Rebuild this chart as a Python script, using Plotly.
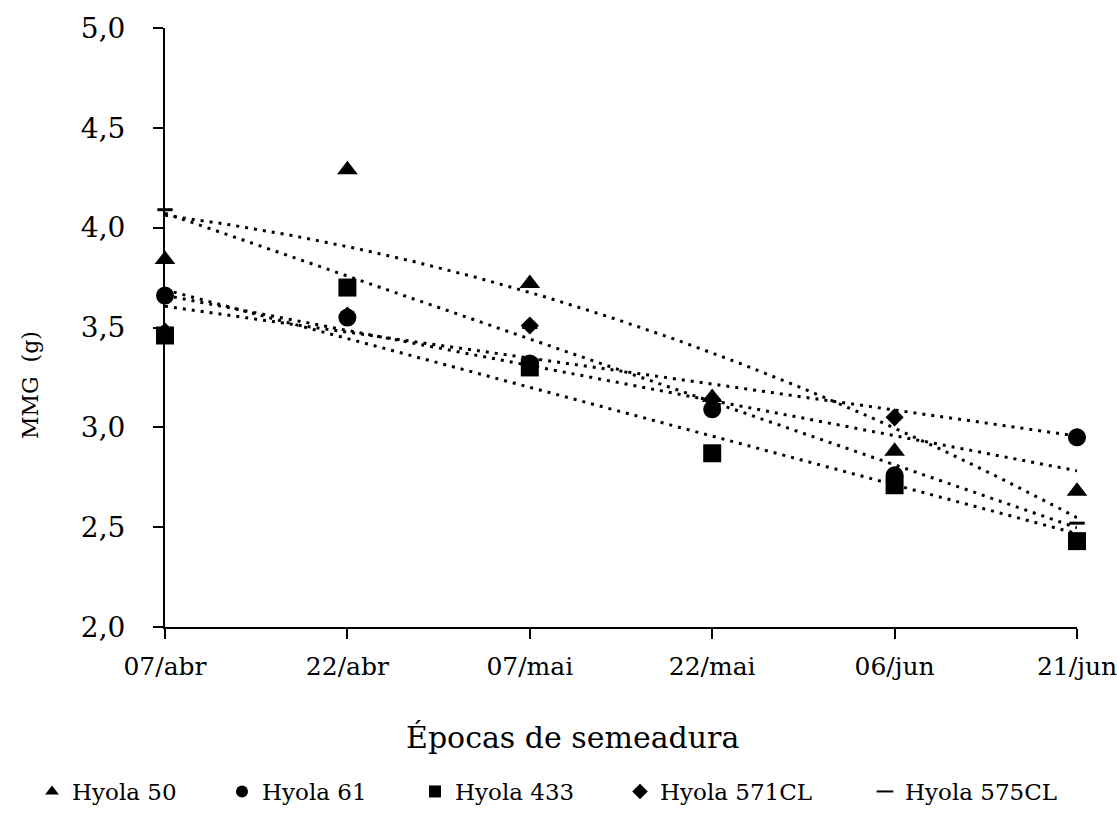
import numpy as np
import plotly.graph_objects as go

# Sowing dates (x axis) and thousand-grain mass, MMG (g), per hybrid
epocas = ["07/abr", "22/abr", "07/mai", "22/mai", "06/jun", "21/jun"]
hyola_50 = [3.84, 4.29, 3.72, 3.15, 2.88, 2.68]
hyola_61 = [3.66, 3.55, 3.32, 3.09, 2.76, 2.95]
hyola_433 = [3.46, 3.70, 3.30, 2.87, 2.71, 2.43]
hyola_571cl = [3.48, 3.56, 3.51, 3.14, 3.05, 2.95]
hyola_575cl = [4.09, 3.70, 3.50, 3.14, 2.76, 2.52]

y_ticks = [2.0, 2.5, 3.0, 3.5, 4.0, 4.5, 5.0]

FONT = "DejaVu Serif"
W, H = 1117, 813
x_idx = np.arange(len(epocas))
x_fit = np.linspace(0, len(epocas) - 1, 200)

# name, values, marker symbol, marker size, trend-line polynomial degree,
# legend id, legend left edge (px)
series = [
    ("Hyola 575CL", hyola_575cl, "line-ew", 11, 1, "legend5", 865),
    ("Hyola 571CL", hyola_571cl, "diamond", 14, 1, "legend4", 620),
    ("Hyola 61", hyola_61, "circle", 18, 1, "legend2", 222),
    ("Hyola 433", hyola_433, "square", 18, 1, "legend3", 415),
    ("Hyola 50", hyola_50, "triangle-up", 18, 2, "legend", 32),
]

fig = go.Figure()

# fitted trend lines (dotted)
for name, vals, sym, size, deg, leg, left in series:
    coef = np.polyfit(x_idx, vals, deg)
    fig.add_trace(go.Scatter(
        x=x_fit, y=np.polyval(coef, x_fit), mode="lines",
        line=dict(color="black", width=3, dash="3px,6px"),
        showlegend=False, hoverinfo="skip", cliponaxis=False,
    ))

# observed means
legends = {}
for name, vals, sym, size, deg, leg, left in series:
    marker = dict(symbol=sym, size=size, color="black")
    if sym == "line-ew":
        marker["line"] = dict(color="black", width=3)
    else:
        marker["line"] = dict(width=0)
    fig.add_trace(go.Scatter(
        x=x_idx, y=vals, mode="markers", name=name, marker=marker,
        legend=leg, showlegend=True, cliponaxis=False,
    ))
    legends[leg] = dict(
        orientation="h", xref="container", x=left / W, xanchor="left",
        yref="container", y=0.0, yanchor="bottom",
        font=dict(family=FONT, size=23, color="black"),
        itemsizing="constant", bgcolor="rgba(0,0,0,0)",
    )

fig.update_layout(
    width=W, height=H,
    margin=dict(l=165, r=40, t=28, b=186, autoexpand=False),
    paper_bgcolor="white", plot_bgcolor="white",
    font=dict(family=FONT, color="black"),
    showlegend=True,
    xaxis=dict(
        range=[0, 5], tickvals=list(x_idx), ticktext=epocas,
        showline=True, linecolor="black", linewidth=2,
        ticks="outside", ticklen=10, tickwidth=2, tickcolor="black",
        showgrid=False, zeroline=False, automargin=False,
        ticklabeloverflow="allow", ticklabelstandoff=6,
        tickfont=dict(family=FONT, size=25, color="black"),
    ),
    yaxis=dict(
        range=[2, 5], tickvals=y_ticks,
        ticktext=[f"{v:.1f}".replace(".", ",") for v in y_ticks],
        showline=True, linecolor="black", linewidth=2,
        ticks="outside", ticklen=10, tickwidth=2, tickcolor="black",
        showgrid=False, zeroline=False, automargin=False,
        ticklabelstandoff=22,
        tickfont=dict(family=FONT, size=28, color="black"),
    ),
    annotations=[
        dict(text="Épocas de semeadura", xref="paper", yref="paper",
             x=0.447, y=-0.184, xanchor="center", yanchor="middle",
             showarrow=False, font=dict(family=FONT, size=30, color="black")),
        dict(text="MMG  (g)", xref="paper", yref="paper",
             x=-0.148, y=0.404, xanchor="center", yanchor="middle", textangle=-90,
             showarrow=False, font=dict(family=FONT, size=22, color="black")),
    ],
    **legends,
)

fig.write_html("out.html")
